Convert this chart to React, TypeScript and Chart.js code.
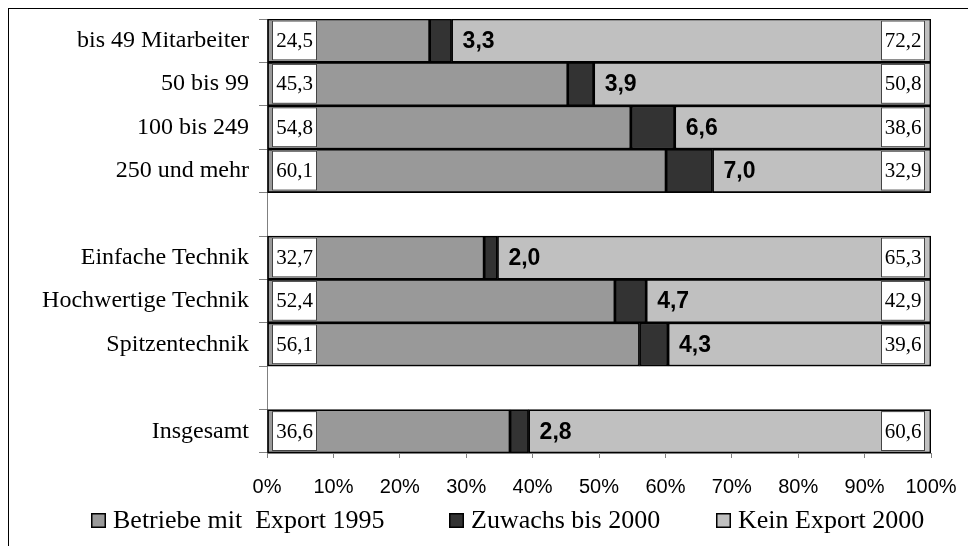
import React, { useEffect, useRef } from 'react';
import { Chart, registerables } from 'chart.js';

Chart.register(...registerables);

const categories = [
  'bis 49 Mitarbeiter',
  '50 bis 99',
  '100 bis 249',
  '250 und mehr',
  '',
  'Einfache Technik',
  'Hochwertige Technik',
  'Spitzentechnik',
  '',
  'Insgesamt',
];
const export1995 = [24.5, 45.3, 54.8, 60.1, null, 32.7, 52.4, 56.1, null, 36.6];
const zuwachs2000 = [3.3, 3.9, 6.6, 7.0, null, 2.0, 4.7, 4.3, null, 2.8];
const keinExport2000 = [72.2, 50.8, 38.6, 32.9, null, 65.3, 42.9, 39.6, null, 60.6];
const xTickLabels = ['0%', '10%', '20%', '30%', '40%', '50%', '60%', '70%', '80%', '90%', '100%'];
const seriesNames = ['Betriebe mit  Export 1995', 'Zuwachs bis 2000', 'Kein Export 2000'];
const seriesColors = ['#999999', '#333333', '#c0c0c0'];

const W = 968;
const H = 538;
const SERIF = "'Liberation Serif', 'Times New Roman', serif";
const SANS = "'Liberation Sans', Arial, sans-serif";
const legendX = [83, 441, 708];

const fmt = (v: number) => v.toFixed(1).replace('.', ',');

const valueLabels = {
  id: 'valueLabels',
  afterDatasetsDraw(chart: any) {
    const ctx = chart.ctx as CanvasRenderingContext2D;
    const area = chart.chartArea;
    const m0 = chart.getDatasetMeta(0);
    const m1 = chart.getDatasetMeta(1);
    const drawBox = (x: number, y: number, w: number, h: number, text: string) => {
      ctx.save();
      ctx.fillStyle = '#ffffff';
      ctx.fillRect(x, y, w, h);
      ctx.strokeStyle = '#444444';
      ctx.lineWidth = 1;
      ctx.strokeRect(x + 0.5, y + 0.5, w - 1, h - 1);
      ctx.fillStyle = '#000000';
      ctx.font = `21px ${SERIF}`;
      ctx.textAlign = 'center';
      ctx.textBaseline = 'middle';
      ctx.fillText(text, x + w / 2, y + h / 2 + 1);
      ctx.restore();
    };
    categories.forEach((_, i) => {
      const a = export1995[i];
      const b = zuwachs2000[i];
      const c = keinExport2000[i];
      if (a == null || b == null || c == null) return;
      const el0: any = m0.data[i];
      const el1: any = m1.data[i];
      const h = el0.height;
      const top = el0.y - h / 2 + 1.5;
      const bh = h - 3.5;
      drawBox(area.left + 5, top, 45, bh, fmt(a));
      drawBox(area.right - 50, top, 44, bh, fmt(c));
      ctx.save();
      ctx.font = `bold 23px ${SANS}`;
      ctx.fillStyle = '#000000';
      ctx.textAlign = 'left';
      ctx.textBaseline = 'middle';
      ctx.fillText(fmt(b), el1.x + 11, el0.y + 1);
      ctx.restore();
    });
  },
};

const customLegend = {
  id: 'customLegend',
  afterDraw(chart: any) {
    const ctx = chart.ctx as CanvasRenderingContext2D;
    ctx.save();
    seriesNames.forEach((name, i) => {
      const x = legendX[i];
      ctx.fillStyle = seriesColors[i];
      ctx.fillRect(x, 505, 15, 15);
      ctx.strokeStyle = '#000000';
      ctx.lineWidth = 1.5;
      ctx.strokeRect(x + 0.75, 505.75, 13.5, 13.5);
      ctx.fillStyle = '#000000';
      ctx.font = `26px ${SERIF}`;
      ctx.textAlign = 'left';
      ctx.textBaseline = 'alphabetic';
      ctx.fillText(name, x + 22, 520);
    });
    ctx.restore();
  },
};

export default function App() {
  const ref = useRef<HTMLCanvasElement | null>(null);

  useEffect(() => {
    if (!ref.current) return;
    const mk = (label: string, data: (number | null)[], color: string) => ({
      label,
      data,
      backgroundColor: color,
      borderColor: '#000000',
      borderWidth: 1.7,
      borderSkipped: false,
      barPercentage: 1,
      categoryPercentage: 1,
    });
    const chart = new Chart(ref.current, {
      type: 'bar',
      data: {
        labels: categories,
        datasets: [
          mk(seriesNames[0], export1995, seriesColors[0]),
          mk(seriesNames[1], zuwachs2000, seriesColors[1]),
          mk(seriesNames[2], keinExport2000, seriesColors[2]),
        ] as any,
      },
      options: {
        indexAxis: 'y',
        animation: false,
        responsive: false,
        devicePixelRatio: 1,
        layout: { padding: { left: 0, right: 45, top: 11, bottom: 43 } },
        plugins: {
          legend: { display: false },
          tooltip: { enabled: false },
        },
        scales: {
          x: {
            stacked: true,
            min: 0,
            max: 100,
            ticks: {
              stepSize: 10,
              autoSkip: false,
              maxRotation: 0,
              padding: 17,
              color: '#000000',
              font: { family: SANS, size: 20 },
              callback: (_v: any, idx: number) => xTickLabels[idx],
            },
            grid: {
              drawOnChartArea: false,
              drawTicks: true,
              tickLength: 5,
              color: '#808080',
            },
            border: { display: true, color: '#808080', width: 1 },
            afterFit: (scale: any) => {
              scale.height = 50;
              scale.paddingLeft = 0;
              scale.paddingRight = 0;
            },
          },
          y: {
            stacked: true,
            offset: true,
            ticks: {
              autoSkip: false,
              padding: 10,
              color: '#000000',
              font: { family: SERIF, size: 24 },
            },
            grid: {
              offset: true,
              drawOnChartArea: false,
              drawTicks: true,
              tickLength: 8,
              color: '#808080',
            },
            border: { display: true, color: '#808080', width: 1 },
            afterFit: (scale: any) => {
              scale.width = 259;
              scale.paddingTop = 0;
              scale.paddingBottom = 0;
            },
          },
        },
      } as any,
      plugins: [valueLabels, customLegend],
    });
    return () => chart.destroy();
  }, []);

  return (
    <div style={{ position: 'relative', width: W, height: H }}>
      <div
        style={{
          position: 'absolute',
          left: 0,
          top: 0,
          width: W,
          height: H,
          borderTop: '1px solid #000',
          borderLeft: '1px solid #000',
          boxSizing: 'border-box',
        }}
      />
      <canvas
        ref={ref}
        width={W}
        height={H}
        style={{ position: 'absolute', left: 0, top: 0, width: W, height: H }}
      />
    </div>
  );
}
